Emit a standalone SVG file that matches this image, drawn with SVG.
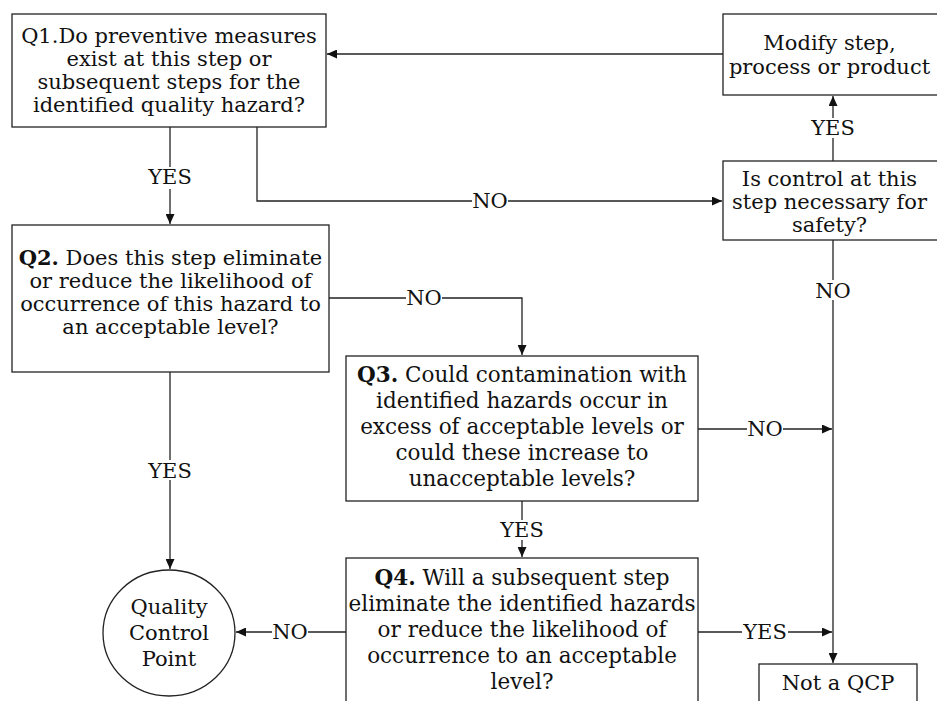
<svg xmlns="http://www.w3.org/2000/svg" width="937" height="701" viewBox="0 0 937 701">
  <style>
    .box { fill: #ffffff; stroke: #222222; stroke-width: 1.3; }
    .txt { font-family: "DejaVu Serif", "Liberation Serif", serif; font-size: 21px; fill: #111111; text-anchor: middle; }
    .big { font-size: 21.5px; }
    .lbl { font-family: "DejaVu Serif", "Liberation Serif", serif; font-size: 21px; fill: #111111; text-anchor: middle; }
    .bg { fill: #ffffff; stroke: none; }
    .link { fill: none; stroke: #222222; stroke-width: 1.3; marker-end: url(#arrow); }
    .q { font-weight: bold; }
  </style>
  <defs>
    <marker id="arrow" markerUnits="userSpaceOnUse" markerWidth="10" markerHeight="9" viewBox="0 0 10 9" refX="10" refY="4.5" orient="auto">
      <path d="M0,0 L10,4.5 L0,9 z" fill="#111111"/>
    </marker>
  </defs>
  <rect width="937" height="701" fill="#ffffff"/>

  <!-- connectors -->
  <g id="connectors">
    <path class="link" d="M723,54 H327"/>
    <path class="link" d="M833,161 V96"/>
    <path class="link" d="M170,127 V224"/>
    <path class="link" d="M257,127 V201 H722"/>
    <path class="link" d="M833,240 V663"/>
    <path class="link" d="M329,298 H522 V355"/>
    <path class="link" d="M698,429 H832"/>
    <path class="link" d="M522,501 V557"/>
    <path class="link" d="M170,372 V569"/>
    <path class="link" d="M346,632 H236"/>
    <path class="link" d="M698,632 H832"/>

    <!-- labels on the connectors -->
    <rect class="bg" x="810" y="118" width="46" height="20"/>
    <text class="lbl" x="833" y="135">YES</text>
    <rect class="bg" x="147" y="167" width="46" height="22"/>
    <text class="lbl" x="170" y="184">YES</text>
    <rect class="bg" x="472" y="191" width="36" height="20"/>
    <text class="lbl" x="490" y="208">NO</text>
    <rect class="bg" x="814" y="280" width="38" height="20"/>
    <text class="lbl" x="833" y="298">NO</text>
    <rect class="bg" x="406" y="288" width="36" height="20"/>
    <text class="lbl" x="424" y="305">NO</text>
    <rect class="bg" x="747" y="419" width="36" height="20"/>
    <text class="lbl" x="765" y="436">NO</text>
    <rect class="bg" x="499" y="520" width="46" height="20"/>
    <text class="lbl" x="522" y="537">YES</text>
    <rect class="bg" x="147" y="460" width="46" height="20"/>
    <text class="lbl" x="170" y="478">YES</text>
    <rect class="bg" x="272" y="622" width="36" height="20"/>
    <text class="lbl" x="290" y="639">NO</text>
    <rect class="bg" x="742" y="622" width="46" height="20"/>
    <text class="lbl" x="765" y="639">YES</text>
  </g>

  <g id="q1">
    <rect class="box" x="12" y="14" width="314" height="113"/>
    <text class="txt" x="169" y="43">Q1.Do preventive measures</text>
    <text class="txt" x="169" y="66">exist at this step or</text>
    <text class="txt" x="169" y="89">subsequent steps for the</text>
    <text class="txt" x="169" y="112">identified quality hazard?</text>
  </g>

  <g id="modify">
    <rect class="box" x="723" y="14" width="220" height="81"/>
    <text class="txt" x="829.5" y="50">Modify step,</text>
    <text class="txt" x="829.5" y="74">process or product</text>
  </g>

  <g id="control">
    <rect class="box" x="723" y="161" width="220" height="79"/>
    <text class="txt" x="829.5" y="186">Is control at this</text>
    <text class="txt" x="829.5" y="209">step necessary for</text>
    <text class="txt" x="829.5" y="232">safety?</text>
  </g>

  <g id="q2">
    <rect class="box" x="12" y="225" width="317" height="147"/>
    <text class="txt" x="170.5" y="265"><tspan class="q">Q2.</tspan> Does this step eliminate</text>
    <text class="txt" x="170.5" y="288">or reduce the likelihood of</text>
    <text class="txt" x="170.5" y="311">occurrence of this hazard to</text>
    <text class="txt" x="170.5" y="334">an acceptable level?</text>
  </g>

  <g id="q3">
    <rect class="box" x="346" y="356" width="352" height="145"/>
    <text class="txt big" x="522" y="382"><tspan class="q">Q3.</tspan> Could contamination with</text>
    <text class="txt big" x="522" y="408">identified hazards occur in</text>
    <text class="txt big" x="522" y="434">excess of acceptable levels or</text>
    <text class="txt big" x="522" y="460">could these increase to</text>
    <text class="txt big" x="522" y="486">unacceptable levels?</text>
  </g>

  <g id="q4">
    <rect class="box" x="346" y="558" width="352" height="160"/>
    <text class="txt big" x="522" y="585"><tspan class="q">Q4.</tspan> Will a subsequent step</text>
    <text class="txt big" x="522" y="611">eliminate the identified hazards</text>
    <text class="txt big" x="522" y="637">or reduce the likelihood of</text>
    <text class="txt big" x="522" y="663">occurrence to an acceptable</text>
    <text class="txt big" x="522" y="689">level?</text>
  </g>

  <g id="qcp">
    <ellipse class="box" cx="169" cy="633" rx="66" ry="63"/>
    <text class="txt" x="169" y="614">Quality</text>
    <text class="txt" x="169" y="640">Control</text>
    <text class="txt" x="169" y="666">Point</text>
  </g>

  <g id="not-qcp">
    <rect class="box" x="759" y="664" width="158" height="60"/>
    <text class="txt" x="838" y="690">Not a QCP</text>
  </g>
</svg>
